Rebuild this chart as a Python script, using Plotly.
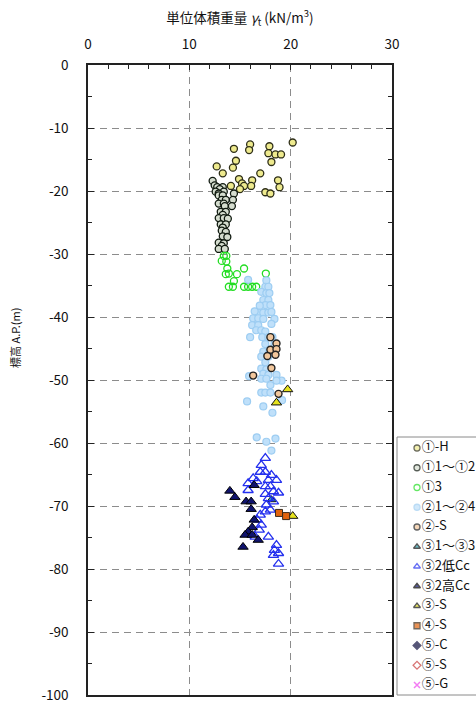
import plotly.graph_objects as go

# ---------------- data ----------------
x_ticks = [0, 10, 20, 30]
x_tick_labels = ["0", "10", "20", "30"]
y_ticks = [0, -10, -20, -30, -40, -50, -60, -70, -80, -90, -100]
y_tick_labels = ["0", "-10", "-20", "-30", "-40", "-50", "-60", "-70", "-80", "-90", "-100"]

# ①-H
h1_x = [20.2, 16.0, 15.9, 17.9, 14.4, 17.8, 18.5, 19.05, 18.1, 14.6, 12.7, 14.3, 13.3, 14.9,
        17.0, 15.2, 16.2, 18.75, 15.4, 16.1, 15.0, 14.1, 18.9, 17.5, 18.0]
h1_y = [-12.3, -12.6, -13.5, -12.9, -13.3, -14.0, -14.2, -14.2, -15.4, -15.2, -16.1, -16.3, -17.2, -18.1,
        -17.2, -18.8, -18.3, -18.3, -19.2, -19.2, -19.7, -19.2, -19.4, -20.2, -20.4]

# ①1～①2
s112_x = [12.3, 12.5, 12.75, 13.3, 13.0, 12.6, 13.4, 12.9, 14.4, 12.9, 13.3, 13.2, 13.6, 14.3,
          12.9, 13.4, 13.5, 14.2, 13.1, 13.6, 13.3, 12.9, 13.4, 13.8, 13.1, 13.6, 13.3, 13.2,
          13.6, 13.3, 13.75, 12.9, 13.4, 13.2, 12.9, 13.5]
s112_y = [-18.4, -19.1, -19.4, -19.4, -19.7, -20.1, -20.1, -20.4, -20.4, -20.7, -20.7, -21.4, -21.4, -21.4,
          -22.0, -22.0, -22.4, -22.4, -23.3, -23.3, -23.8, -24.3, -24.3, -24.4, -25.3, -25.3, -25.8, -26.3,
          -26.5, -27.2, -27.3, -28.2, -28.3, -28.7, -29.2, -29.2]

# ①3
s13_x = [13.4, 13.65, 13.2, 13.65, 13.75, 15.4, 13.6, 13.9, 14.7, 17.55, 14.4, 13.9, 14.3, 15.4,
         15.8, 16.2, 16.6]
s13_y = [-30.3, -30.3, -31.1, -31.2, -32.3, -32.3, -33.2, -33.1, -33.2, -33.1, -34.3, -35.2, -35.2, -35.2,
         -35.2, -35.2, -35.2]

# ②1～②4
s214_x = [15.8, 17.6, 17.5, 17.8, 17.1, 17.6, 17.9, 17.3, 17.8, 17.5, 18.0, 16.8, 17.3, 17.8, 18.1,
          16.3, 16.8, 17.3, 18.4, 16.2, 16.8, 18.1, 16.6, 17.1, 17.5, 16.0, 17.2, 17.8, 18.2, 17.5,
          18.4, 17.3, 17.9, 17.1, 17.8, 17.5, 17.1, 17.6, 15.9, 17.3, 17.8, 17.1, 17.6, 18.6, 19.1,
          18.6, 18.0, 17.1, 17.5, 18.0, 15.7, 17.3, 18.2, 19.15, 16.65, 17.6, 18.5, 18.1, 16.45, 16.95]
s214_y = [-34.1, -34.2, -35.2, -35.2, -36.0, -36.2, -36.2, -37.3, -37.3, -38.1, -38.1, -39.3, -39.3, -39.3, -39.2,
          -40.2, -40.2, -40.3, -40.3, -41.3, -41.3, -41.1, -42.1, -42.1, -42.3, -43.2, -43.2, -43.2, -43.2, -44.3,
          -44.3, -45.5, -45.5, -46.3, -46.3, -47.2, -48.2, -48.3, -49.4, -49.0, -49.2, -49.8, -49.8, -49.2, -50.1,
          -50.1, -50.8, -52.0, -52.0, -52.0, -53.4, -54.2, -55.2, -53.2, -59.1, -59.8, -59.3, -61.2, -39.1, -38.2]

# ②-S
s2s_x = [18.0, 18.6, 18.0, 18.6, 17.7, 18.5, 18.1, 16.3, 18.8]
s2s_y = [-43.2, -44.2, -45.2, -45.1, -46.2, -46.0, -48.1, -49.3, -52.2]

# ③1～③3
s313_x = [18.1]
s313_y = [-69.0]

# ③2低Cc
s32l_x = [17.5, 17.1, 17.0, 17.5, 16.3, 16.65, 15.8, 18.1, 18.6, 17.8, 17.5, 18.0, 18.3, 18.8, 15.8,
          17.5, 17.8, 18.3, 17.6, 18.0, 17.5, 17.0, 16.7, 17.1, 16.9, 17.8, 16.5, 18.6, 18.8, 18.3,
          18.8, 18.4]
s32l_y = [-62.4, -63.5, -64.6, -64.6, -65.6, -66.1, -66.4, -65.1, -65.9, -65.9, -66.9, -66.9, -67.7, -67.9, -67.5,
          -68.1, -68.8, -69.3, -69.8, -70.6, -70.9, -71.4, -72.2, -73.0, -73.8, -74.9, -74.9, -76.2, -77.5, -77.8,
          -79.2, -77.0]

# ③2高Cc
s32h_x = [14.0, 14.5, 15.6, 16.1, 16.1, 16.4, 16.2, 15.8, 15.5, 16.2, 16.8, 15.3, 16.4]
s32h_y = [-67.6, -68.6, -69.3, -69.3, -70.5, -72.2, -73.4, -74.1, -74.6, -74.6, -75.4, -76.5, -66.7]

# ③-S
s3s_x = [19.7, 18.6, 20.2]
s3s_y = [-51.5, -53.6, -71.6]

# ④-S
s4s_x = [18.85, 19.55]
s4s_y = [-71.1, -71.6]

# ⑤-C, ⑤-S, ⑤-G (no points in the chart)
s5c_x, s5c_y = [], []
s5s_x, s5s_y = [], []
s5g_x, s5g_y = [], []

series_names = ["①-H", "①1～①2", "①3", "②1～②4", "②-S", "③1～③3", "③2低Cc",
                "③2高Cc", "③-S", "④-S", "⑤-C", "⑤-S", "⑤-G"]
series_x = [h1_x, s112_x, s13_x, s214_x, s2s_x, s313_x, s32l_x, s32h_x, s3s_x, s4s_x, s5c_x, s5s_x, s5g_x]
series_y = [h1_y, s112_y, s13_y, s214_y, s2s_y, s313_y, s32l_y, s32h_y, s3s_y, s4s_y, s5c_y, s5s_y, s5g_y]

# styles: symbol, size, fill, outline, outline width
styles = [
    ("circle", 7, "#eeea8e", "#2e2e18", 1.3),
    ("circle", 7, "#d5ddcf", "#101a10", 1.3),
    ("circle-open", 7, "#22dd22", "#22dd22", 1.3),
    ("circle", 7, "#bfe0fa", "#9dcdf2", 1.2),
    ("circle", 7, "#f2c79c", "#222222", 1.4),
    ("triangle-up", 8, "#2aa6b4", "#111111", 1.0),
    ("triangle-up-open", 9, "#2430ee", "#2430ee", 1.3),
    ("triangle-up", 9, "#10146e", "#000000", 1.0),
    ("triangle-up", 9, "#e6e21e", "#111111", 1.0),
    ("square", 7, "#e2640e", "#3a2a1a", 1.0),
    ("diamond", 7, "#101040", "#101040", 1.0),
    ("diamond-open", 7, "#c83a3a", "#c83a3a", 1.3),
    ("x-thin-open", 7, "#ee44ee", "#ee44ee", 1.5),
]

FONT = "Noto Sans CJK JP"
W, H = 476, 704
ML, MT, MB = 88, 65, 9
PLOT_R = 392          # right edge of main plot (px)
LEG_L, LEG_T = 397, 437   # legend box left / top (px)
paper_w = W - ML
main_dom = (PLOT_R - ML) / paper_w
leg_dom_x = (LEG_L - ML) / paper_w
leg_w_px = W - LEG_L
plot_h = H - MT - MB
leg_top = (H - MB - LEG_T) / plot_h

fig = go.Figure()
for name, xs, ys, st in zip(series_names, series_x, series_y, styles):
    sym, size, fill, line, lw = st
    fig.add_trace(go.Scatter(
        x=xs, y=ys, mode="markers", name=name, showlegend=False,
        marker=dict(symbol=sym, size=size, color=fill, line=dict(color=line, width=lw)),
        xaxis="x", yaxis="y",
    ))

# legend drawn as a key panel (marker + label per series)
n = len(series_names)
fig.add_trace(go.Scatter(
    x=[0] * n, y=list(range(n)), mode="markers+text",
    text=series_names, textposition="middle right",
    textfont=dict(family=FONT, size=13, color="#111111"),
    marker=dict(symbol=[s[0] for s in styles], size=[min(s[1], 7) - 1 for s in styles],
                color=[s[2] for s in styles],
                line=dict(color=[s[3] for s in styles], width=[max(s[4], 1.3) for s in styles])),
    showlegend=False, hoverinfo="skip", cliponaxis=False,
    xaxis="x2", yaxis="y2",
))

item_px = 19.75
first_item_px = 448
marker_px = 417
leg_h_px = H - MB - LEG_T
top_units = (first_item_px - LEG_T) / item_px
y2_range = [leg_h_px / item_px - top_units, -top_units]  # reversed: index 0 at top
x2_range = [-(marker_px - LEG_L) / 10.0, (leg_w_px - (marker_px - LEG_L)) / 10.0]

fig.update_layout(
    width=W, height=H,
    margin=dict(l=ML, r=0, t=MT, b=MB, autoexpand=False),
    paper_bgcolor="white", plot_bgcolor="white",
    font=dict(family=FONT, size=12, color="#111111"),
    showlegend=False,
    xaxis=dict(
        domain=[0, main_dom],
        side="top", range=[0, 30], tickvals=x_ticks, ticktext=x_tick_labels,
        showline=True, linecolor="#222222", linewidth=1.5, mirror=True,
        ticks="inside", ticklen=5, tickcolor="#222222",
        ticklabelstandoff=9,
        tickfont=dict(family=FONT, size=13.5),
        showgrid=True, gridcolor="#8c8c8c", griddash="7px,5px", gridwidth=1.3,
        zeroline=False,
        minor=dict(dtick=2, ticks="inside", ticklen=4, tickcolor="#222222", showgrid=False),
        title=dict(text="単位体積重量 <i>γ</i><sub>t</sub> (kN/m<sup>3</sup>)",
                   font=dict(family=FONT, size=13.5), standoff=6),
    ),
    yaxis=dict(
        range=[-100, 0], tickvals=y_ticks, ticktext=y_tick_labels,
        showline=True, linecolor="#222222", linewidth=1.5, mirror="ticks",
        ticks="inside", ticklen=6, tickcolor="#222222",
        ticklabelstandoff=15,
        tickfont=dict(family=FONT, size=13.5),
        showgrid=True, gridcolor="#8c8c8c", griddash="7px,5px", gridwidth=1.3,
        zeroline=False,
        minor=dict(dtick=5, ticks="inside", ticklen=4, tickcolor="#222222", showgrid=False),
    ),
    xaxis2=dict(domain=[leg_dom_x, 1], range=x2_range, visible=False, fixedrange=True,
                anchor="y2"),
    yaxis2=dict(domain=[0, leg_top], range=y2_range, visible=False, fixedrange=True,
                anchor="x2"),
    shapes=[dict(type="rect", xref="paper", yref="paper",
                 x0=leg_dom_x, x1=1.05, y0=0, y1=leg_top,
                 line=dict(color="#8a8a8a", width=1), fillcolor="rgba(0,0,0,0)", layer="below")],
    annotations=[dict(
        text="標高 A.P.(m)", textangle=-90, xref="paper", yref="paper",
        x=(15 - ML) / paper_w, y=(H - MB - 338) / plot_h, xanchor="center", yanchor="middle",
        showarrow=False, font=dict(family=FONT, size=11),
    )],
)

fig.write_html("out.html", config={"displayModeBar": False},
               post_script="document.body.style.margin='0px';")
